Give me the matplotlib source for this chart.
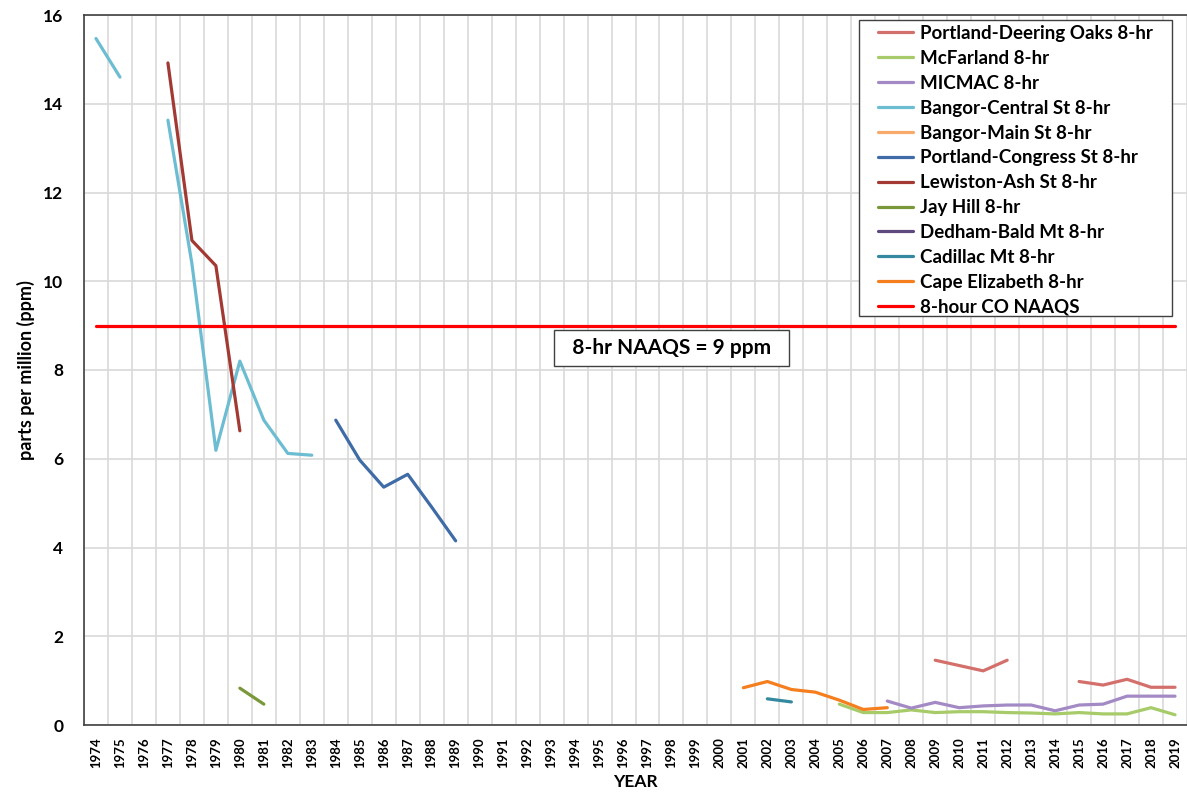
import numpy as np
import matplotlib
matplotlib.use("Agg")
import matplotlib.pyplot as plt
from matplotlib.patches import Rectangle

plt.rcParams['font.family'] = ['Lato', 'DejaVu Sans']

years = list(range(1974, 2020))
nan = np.nan

def series(d):
    return [d.get(y, nan) for y in years]

portland_deering = series({2009: 1.46, 2010: 1.34, 2011: 1.22, 2012: 1.46,
                           2015: 0.98, 2016: 0.90, 2017: 1.03, 2018: 0.85, 2019: 0.85})
mcfarland = series({2005: 0.47, 2006: 0.28, 2007: 0.28, 2008: 0.34, 2009: 0.28, 2010: 0.30,
                    2011: 0.30, 2012: 0.28, 2013: 0.27, 2014: 0.25, 2015: 0.28, 2016: 0.25,
                    2017: 0.25, 2018: 0.39, 2019: 0.23})
micmac = series({2007: 0.54, 2008: 0.38, 2009: 0.51, 2010: 0.39, 2011: 0.43, 2012: 0.45,
                 2013: 0.45, 2014: 0.32, 2015: 0.45, 2016: 0.47, 2017: 0.65, 2018: 0.65, 2019: 0.65})
bangor_central = series({1974: 15.47, 1975: 14.6, 1977: 13.63, 1978: 10.4, 1979: 6.19,
                         1980: 8.2, 1981: 6.87, 1982: 6.12, 1983: 6.08})
bangor_main = series({})
portland_congress = series({1984: 6.87, 1985: 5.97, 1986: 5.36, 1987: 5.65, 1988: 4.91, 1989: 4.15})
lewiston_ash = series({1977: 14.92, 1978: 10.92, 1979: 10.35, 1980: 6.63})
jay_hill = series({1980: 0.83, 1981: 0.47})
dedham = series({})
cadillac = series({2002: 0.59, 2003: 0.52})
cape_elizabeth = series({2001: 0.84, 2002: 0.98, 2003: 0.80, 2004: 0.74, 2005: 0.56,
                         2006: 0.35, 2007: 0.39})
naaqs = [9.0] * len(years)

labels = ["Portland-Deering Oaks 8-hr", "McFarland 8-hr", "MICMAC 8-hr",
          "Bangor-Central St 8-hr", "Bangor-Main St 8-hr", "Portland-Congress St 8-hr",
          "Lewiston-Ash St 8-hr", "Jay Hill 8-hr", "Dedham-Bald Mt 8-hr",
          "Cadillac Mt 8-hr", "Cape Elizabeth 8-hr", "8-hour CO NAAQS"]
data = [portland_deering, mcfarland, micmac, bangor_central, bangor_main,
        portland_congress, lewiston_ash, jay_hill, dedham, cadillac, cape_elizabeth, naaqs]
colors = ["#D4706C", "#A6CB68", "#A38AC4", "#6DBDD2", "#F8AA6A", "#3F6BA6",
          "#A23A33", "#78983A", "#5E4A7C", "#3489A0", "#F57E1E", "#FF0000"]

W, H = 1187, 793
fig = plt.figure(figsize=(W / 100, H / 100), dpi=100)
ax = fig.add_axes([84 / W, 1 - 725 / H, (W - 84) / W, 710 / H])

for lab, d, c in zip(labels, data, colors):
    ax.plot(years, d, color=c, lw=2.3, label=lab, solid_capstyle='round', solid_joinstyle='round')

ax.set_xlim(1973.5, 2019.5)
ax.set_ylim(0, 16)
ax.set_yticks(np.arange(0, 17, 2))
ax.set_xticks(years)
ax.set_xticklabels([str(y) for y in years], rotation=90, fontsize=9.5, fontweight='bold')
ax.set_xticks(np.arange(1973.5, 2020, 1), minor=True)
ax.tick_params(axis='x', which='both', length=0, pad=9)
ax.tick_params(axis='y', length=0, pad=15, labelsize=12.5)
for t in ax.get_yticklabels():
    t.set_fontweight('bold')
ax.grid(axis='x', which='minor', color='#D9D9D9', lw=1.2)
ax.grid(axis='y', which='major', color='#D9D9D9', lw=1.2)
ax.set_axisbelow(True)
ax.spines['right'].set_visible(False)
for s in ['left', 'bottom', 'top']:
    ax.spines[s].set_color('#404040')
    ax.spines[s].set_linewidth(1.2)

ax.set_ylabel("parts per million (ppm)", fontsize=13, fontweight='bold', labelpad=6)
ax.set_xlabel("YEAR", fontsize=12.5, fontweight='bold', labelpad=4)

ax.text(1998, 8.49, "  8-hr NAAQS = 9 ppm  ", fontsize=15, fontweight='bold', ha='center', va='center',
        bbox=dict(boxstyle='square,pad=0.38', fc='white', ec='#404040', lw=1.0))

# legend frame drawn as a separate box, legend itself frameless
frame = Rectangle((859 / W, 1 - 316 / H), 313 / W, 296 / H, transform=fig.transFigure,
                  fc='white', ec='#404040', lw=1.0, zorder=4.9, clip_on=False)
ax.add_patch(frame)
leg = ax.legend(loc='upper left', bbox_to_anchor=(878 / W, 1 - 25 / H), bbox_transform=fig.transFigure,
                prop={'weight': 'bold', 'size': 13.5}, frameon=False,
                handlelength=1.87, handletextpad=0.37, labelspacing=0.42, borderpad=0,
                borderaxespad=0)
leg.set_zorder(5)

fig.savefig("out.png", dpi=100)
